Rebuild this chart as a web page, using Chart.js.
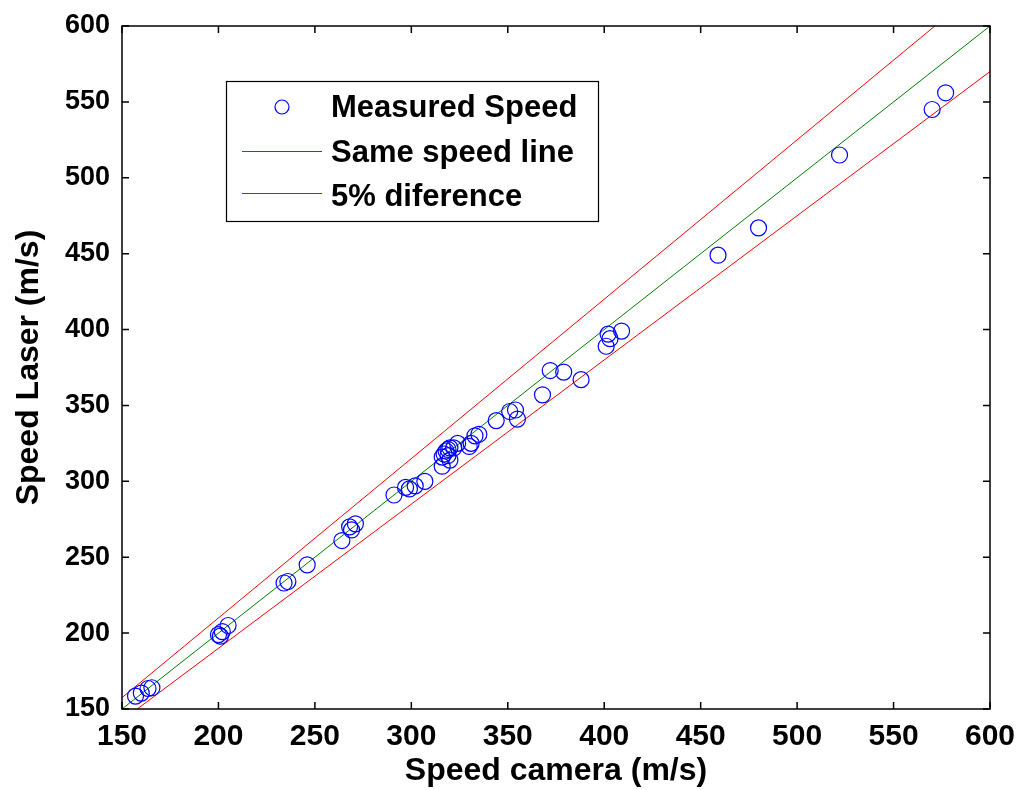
<!DOCTYPE html>
<html>
<head>
<meta charset="utf-8">
<script src="https://cdn.jsdelivr.net/npm/chart.js@4.4.1/dist/chart.umd.min.js"></script>
<style>
  html, body { margin: 0; padding: 0; background: #fff; }
  #graph { display: block; }
</style>
</head>
<body>
<canvas id="graph" width="1021" height="790"></canvas>
<script>
// measured points
const cameraSpeed = [157, 160, 163.5, 165.5, 200, 202, 201, 205, 234, 236, 246, 264, 268, 269, 271,
  291, 297, 299, 302, 307, 316, 317, 318, 319, 320, 322, 324, 316, 320, 319,
  330, 331, 333, 335, 344, 351, 354, 355, 368, 372, 379, 388, 401, 402, 403, 409,
  459, 480, 522, 570, 577];
const laserSpeed = [158.5, 160.5, 163.5, 164, 199, 201, 198, 205, 233, 234, 245, 261, 270, 268, 272,
  291, 296, 295, 297, 300, 316, 318, 320, 321, 322, 322, 325, 310, 314, 317,
  323, 325, 330, 331, 340, 346, 347, 341, 357, 373, 372, 367, 389, 397, 394, 399,
  449, 467, 515, 545, 556];

// reference lines
const lineX = [150, 600];
const sameSpeed = [150, 600];
const upper5 = [157.5, 630];
const lower5 = [142.5, 570];

const xTicks = [150, 200, 250, 300, 350, 400, 450, 500, 550, 600];
const yTicks = [150, 200, 250, 300, 350, 400, 450, 500, 550, 600];

const FONT = "'Liberation Sans', Arial, sans-serif";

const toPts = (xs, ys) => xs.map((x, i) => ({x: x, y: ys[i]}));

// box, inward ticks and the legend, MATLAB style
const boxPlugin = {
  id: 'box',
  afterDraw(chart) {
    const ctx = chart.ctx;
    const a = chart.chartArea;
    const sx = chart.scales.x, sy = chart.scales.y;
    ctx.save();
    ctx.strokeStyle = '#000';
    ctx.lineWidth = 1.5;
    ctx.strokeRect(a.left, a.top, a.right - a.left, a.bottom - a.top);
    ctx.beginPath();
    xTicks.forEach(v => {
      const px = sx.getPixelForValue(v);
      ctx.moveTo(px, a.bottom); ctx.lineTo(px, a.bottom - 7);
      ctx.moveTo(px, a.top); ctx.lineTo(px, a.top + 7);
    });
    yTicks.forEach(v => {
      const py = sy.getPixelForValue(v);
      ctx.moveTo(a.left, py); ctx.lineTo(a.left + 7, py);
      ctx.moveTo(a.right, py); ctx.lineTo(a.right - 7, py);
    });
    ctx.stroke();

    // legend
    ctx.fillStyle = '#fff';
    ctx.fillRect(226, 81, 372, 140);
    ctx.lineWidth = 1.2;
    ctx.strokeStyle = '#000';
    ctx.strokeRect(226.5, 81.5, 372, 140);
    ctx.strokeStyle = '#0000ff';
    ctx.beginPath();
    ctx.arc(282, 107, 7, 0, Math.PI * 2);
    ctx.stroke();
    ctx.lineWidth = 1;
    ctx.strokeStyle = '#008000';
    ctx.beginPath(); ctx.moveTo(242, 151.5); ctx.lineTo(322, 151.5); ctx.stroke();
    ctx.strokeStyle = '#ff0000';
    ctx.beginPath(); ctx.moveTo(242, 193.5); ctx.lineTo(322, 193.5); ctx.stroke();
    ctx.fillStyle = '#000';
    ctx.font = 'bold 31px ' + FONT;
    ctx.textBaseline = 'middle';
    ctx.textAlign = 'left';
    const labels = ['Measured Speed', 'Same speed line', '5% diference'];
    [108, 153, 197].forEach((y, i) => ctx.fillText(labels[i], 331, y));
    ctx.restore();
  }
};

const graph = document.getElementById('graph');
new Chart(graph, {
  type: 'scatter',
  data: {
    datasets: [
      {
        label: 'Measured Speed',
        data: toPts(cameraSpeed, laserSpeed),
        showLine: false,
        pointStyle: 'circle',
        pointRadius: 8,
        pointBorderWidth: 1.2,
        borderColor: '#0000ff',
        backgroundColor: 'rgba(0,0,0,0)',
        order: 0
      },
      {
        label: 'Same speed line',
        type: 'line',
        data: toPts(lineX, sameSpeed),
        borderColor: '#008000',
        borderWidth: 1,
        pointRadius: 0,
        fill: false,
        order: 1
      },
      {
        label: '5% diference',
        type: 'line',
        data: toPts(lineX, upper5),
        borderColor: '#ff0000',
        borderWidth: 1,
        pointRadius: 0,
        fill: false,
        order: 2
      },
      {
        label: '5% diference low',
        type: 'line',
        data: toPts(lineX, lower5),
        borderColor: '#ff0000',
        borderWidth: 1,
        pointRadius: 0,
        fill: false,
        order: 3
      }
    ]
  },
  options: {
    responsive: false,
    animation: false,
    layout: { padding: { top: 26, right: 31, left: 0, bottom: 0 } },
    plugins: {
      legend: { display: false },
      tooltip: { enabled: false }
    },
    scales: {
      x: {
        type: 'linear',
        min: 150, max: 600,
        afterBuildTicks: s => { s.ticks = xTicks.map(v => ({value: v})); },
        afterFit: s => { s.height = 81; s.paddingLeft = 0; s.paddingRight = 0; },
        grid: { display: false, drawTicks: false },
        border: { display: false },
        ticks: {
          color: '#000',
          padding: 10,
          maxRotation: 0,
          font: { family: FONT, size: 30, weight: 'bold' }
        },
        title: {
          display: true,
          text: 'Speed camera (m/s)',
          color: '#000',
          padding: { top: 0, bottom: 0 },
          font: { family: FONT, size: 32, weight: 'bold' }
        }
      },
      y: {
        type: 'linear',
        min: 150, max: 600,
        afterBuildTicks: s => { s.ticks = yTicks.map(v => ({value: v})); },
        afterFit: s => { s.width = 122; s.paddingTop = 0; s.paddingBottom = 0; },
        grid: { display: false, drawTicks: false },
        border: { display: false },
        ticks: {
          color: '#000',
          padding: 12,
          font: { family: FONT, size: 27, weight: 'bold' }
        },
        title: {
          display: true,
          text: 'Speed Laser (m/s)',
          color: '#000',
          padding: { top: 10, bottom: 0 },
          font: { family: FONT, size: 32, weight: 'bold' }
        }
      }
    }
  },
  plugins: [boxPlugin]
});
</script>
</body>
</html>
